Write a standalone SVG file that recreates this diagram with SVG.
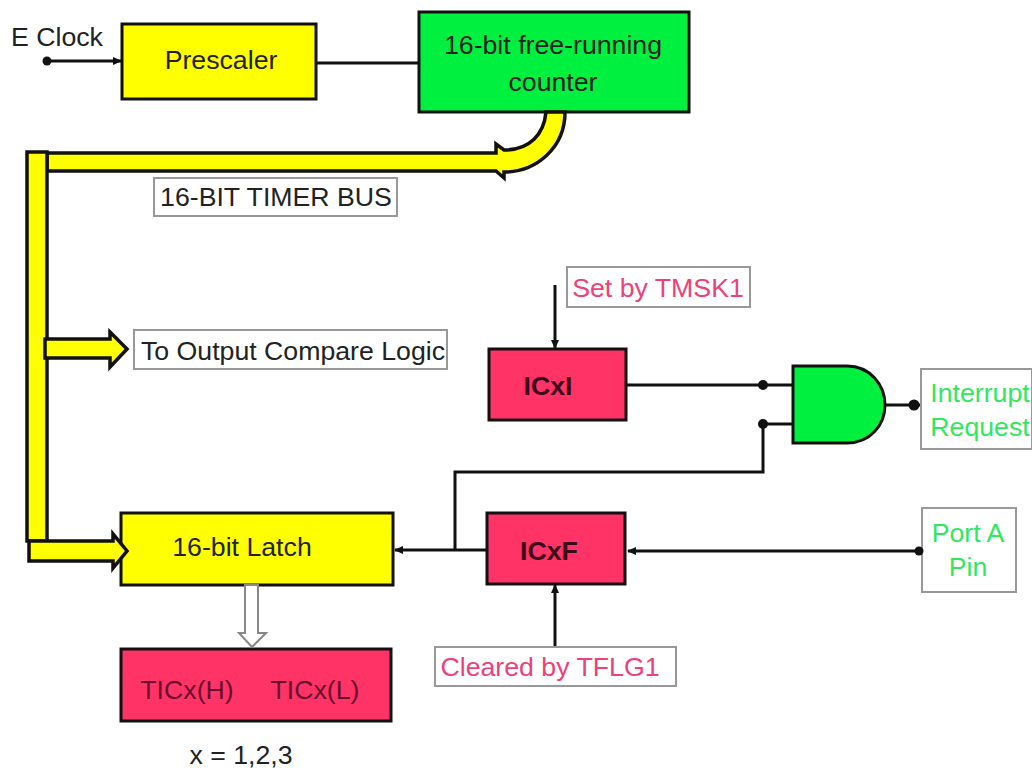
<svg xmlns="http://www.w3.org/2000/svg" width="1032" height="768" viewBox="0 0 1032 768">
<style>
text{font-family:"Liberation Sans",Arial,sans-serif;font-size:26.7px;text-anchor:middle;fill:#222}
.b{stroke:#111;stroke-width:3}
.y{fill:#ffff00}.g{fill:#00f040}.r{fill:#ff3366}
.lab{fill:#fff;stroke:#999;stroke-width:2}
text.pk{fill:#f0407a}
text.gt{fill:#30e860}
text.bd{font-weight:bold;fill:#3a0818}
text.dk{fill:#6a0a2c}
.w{fill:none;stroke:#111;stroke-width:3}
.bus{fill:#ffff00;stroke:#111;stroke-width:3.500;stroke-linejoin:miter}
</style>
<defs>
<marker id="ah" markerWidth="10" markerHeight="10" refX="8" refY="4" orient="auto" markerUnits="userSpaceOnUse"><path d="M0 0L9 4L0 8z" fill="#111"/></marker>
</defs>
<rect width="1032" height="768" fill="#fff"/>
<g id="eclock"><text x="57" y="46">E Clock</text></g>
<g id="prescaler"><rect class="y b" x="122" y="24" width="194" height="75"/><text x="221" y="69">Prescaler</text></g>
<g id="counter"><rect class="g b" x="419" y="12" width="270" height="100"/><text x="553" y="54">16-bit free-running</text><text x="553" y="91">counter</text></g>
<g id="timer-bus-label"><rect class="lab" x="154" y="178" width="243" height="38"/><text x="276" y="206">16-BIT TIMER BUS</text></g>
<g id="output-logic"><rect class="lab" x="134" y="330" width="313" height="39"/><text x="293" y="360">To Output Compare Logic</text></g>
<g id="set-label"><rect class="lab" x="567" y="267" width="183" height="40"/><text class="pk" x="658" y="297">Set by TMSK1</text></g>
<g id="icxi"><rect class="r b" x="489" y="349" width="137" height="71"/><text class="bd" x="548" y="395">ICxI</text></g>
<g id="and-gate"><path class="g" stroke="#111" stroke-width="3" d="M793 366H847C870 366 885 385 885 405C885 425 870 443 847 443H793z"/></g>
<g id="interrupt-request"><rect class="lab" x="921" y="369" width="111" height="80"/><text class="gt" x="980" y="402">Interrupt</text><text class="gt" x="980" y="436">Request</text></g>
<g id="latch"><rect class="y b" x="121" y="513" width="272" height="72"/><text x="242" y="556">16-bit Latch</text></g>
<g id="icxf"><rect class="r b" x="487" y="513" width="138" height="71"/><text class="bd" x="549" y="560">ICxF</text></g>
<g id="port-a"><rect class="lab" x="922" y="508" width="94" height="84"/><text class="gt" x="968" y="542">Port A</text><text class="gt" x="968" y="576">Pin</text></g>
<g id="cleared-label"><rect class="lab" x="435" y="647" width="241" height="39"/><text class="pk" x="550" y="676">Cleared by TFLG1</text></g>
<g id="tic"><rect class="r b" x="121" y="649" width="270" height="72"/><text class="dk" x="187" y="699">TICx(H)</text><text class="dk" x="315" y="699">TICx(L)</text></g>
<g id="x-note"><text x="241" y="764">x = 1,2,3</text></g>
<g id="connectors">
<path class="w" d="M48 61H121" marker-end="url(#ah)"/>
<circle cx="47" cy="61" r="4.500" fill="#111"/>
<path class="w" d="M317 63H418"/>
<path class="w" d="M555 285V348" marker-end="url(#ah)"/>
<path class="w" d="M627 385H793"/>
<circle cx="763" cy="385" r="5" fill="#111"/>
<path class="w" d="M793 424H763V472H455V550"/>
<circle cx="763" cy="424" r="5" fill="#111"/>
<path class="w" d="M486 550H395" marker-end="url(#ah)"/>
<path class="w" d="M885 405H920"/>
<circle cx="914" cy="405" r="5.500" fill="#111"/>
<path class="w" d="M920 551H628" marker-end="url(#ah)"/>
<circle cx="919" cy="551" r="4.500" fill="#111"/>
<path class="w" d="M555 646V585" marker-end="url(#ah)"/>
<path id="bus-top" class="bus" d="M47 153H496V144L504 150C530 150 544 134 546 112H565C565 148 536 172 504 172L504 178L496 171H47z"/>
<rect id="bus-vertical" class="bus" x="27" y="152" width="20" height="389"/>
<path id="bus-output" class="bus" d="M45 339H110V332L127 349L110 367V358H45z"/>
<path id="bus-latch" class="bus" d="M29 541H113V534L127 551L113 568V561H29z"/>
<path id="bus-white" d="M245 585H258V633H266L252 647L239 633H245z" fill="#fff" stroke="#888" stroke-width="2"/>
</g>
</svg>
